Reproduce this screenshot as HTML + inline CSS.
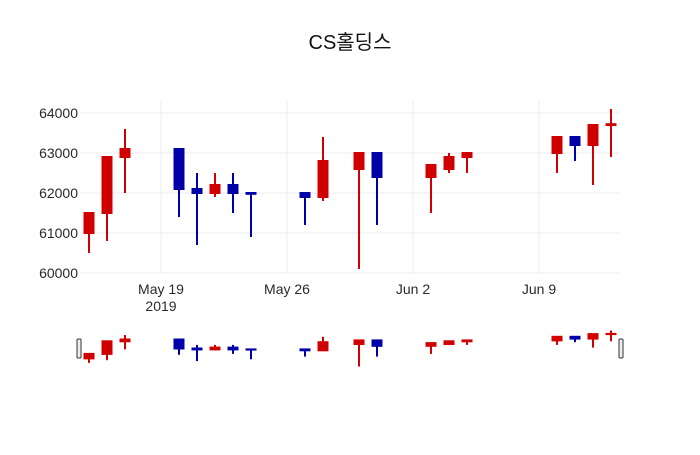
<!DOCTYPE html>
<html><head><meta charset="utf-8"><style>
body{margin:0;background:#fff}
svg text{font-family:"Liberation Sans","Noto Sans CJK KR",sans-serif;fill:#2a2a2a}
</style></head><body>
<svg width="700" height="450" id="c">
<text x="350" y="49" text-anchor="middle" font-size="20" style="fill:#111">CS홀딩스</text>
<g id="grid"></g><g id="marks"></g><g id="slider"></g>
</svg>
<script>
const dates=["2019-05-15","2019-05-16","2019-05-17","2019-05-20","2019-05-21","2019-05-22","2019-05-23","2019-05-24","2019-05-27","2019-05-28","2019-05-30","2019-05-31","2019-06-03","2019-06-04","2019-06-05","2019-06-10","2019-06-11","2019-06-12","2019-06-13"];
const opens=[61000,61500,62900,63100,62100,62000,62200,62000,62000,61900,62600,63000,62400,62600,62900,63000,63400,63200,63700];
const highs=[61500,62900,63600,63100,62500,62500,62500,62000,62000,63400,63000,63000,62700,63000,63000,63400,63400,63700,64100];
const lows=[60500,60800,62000,61400,60700,61900,61500,60900,61200,61800,60100,61200,61500,62500,62500,62500,62800,62200,62900];
const closes=[61500,62900,63100,62100,62000,62200,62000,61980,61900,62800,63000,62400,62700,62900,63000,63400,63200,63700,63720];
const yTicks=[60000,61000,62000,63000,64000];
const xTicks=["2019-05-19","2019-05-26","2019-06-02","2019-06-09"];
const xTickLabels=["May 19","May 26","Jun 2","Jun 9"];
const NS="http://www.w3.org/2000/svg";
const day=86400000, ref=Date.parse("2019-05-19");
const X=d=>161+(Date.parse(d)-ref)/day*18;
const Y=v=>113+(64000-v)*0.04;
const YS=v=>335+(63600-v)*0.009;
function mk(tag,a,p){const e=document.createElementNS(NS,tag);for(const k in a)e.setAttribute(k,a[k]);p.appendChild(e);return e;}
const grid=document.getElementById('grid'),marks=document.getElementById('marks'),sl=document.getElementById('slider');
yTicks.forEach(v=>{
  const l=mk('line',{x1:80,x2:620,y1:Y(v),y2:Y(v),stroke:'#eee'},grid);
  
  
  const t=mk('text',{x:78,y:Y(v)+5,'text-anchor':'end','font-size':14},grid);t.textContent=v;
  
  
});
xTicks.forEach((d,i)=>{
  const l=mk('line',{x1:X(d),x2:X(d),y1:100,y2:273,stroke:'#eee'},grid);
  
  
  const t=mk('text',{x:X(d),y:294,'text-anchor':'middle','font-size':14},grid);t.textContent=xTickLabels[i];
  
  
});
const yr=mk('text',{x:X(xTicks[0]),y:311,'text-anchor':'middle','font-size':14},grid);yr.textContent="2019";


function candle(i,yf,p,w,name){
  const inc=closes[i]>opens[i], col=inc?'#d00000':'#0000a8', x=X(dates[i]);
  const g=mk('g',{},p);
  
  
  mk('line',{x1:x,x2:x,y1:yf(highs[i]),y2:yf(lows[i]),stroke:col,'stroke-width':2},g);
  const t=Math.min(yf(opens[i]),yf(closes[i])),b=Math.max(yf(opens[i]),yf(closes[i]));
  mk('rect',{x:x-w/2,y:t-1,width:w,height:Math.max(b-t,0)+2,fill:col},g);
}
dates.forEach((d,i)=>{candle(i,Y,marks,11,'candle');candle(i,YS,sl,11,'slider-candle');});
[[77,80],[619,622]].forEach(([a])=>{
  const h=mk('rect',{x:a,y:339,width:4,height:19,rx:1,fill:'#eee',stroke:'#333','stroke-width':1},sl);
  
  
});
</script>
</body></html>
